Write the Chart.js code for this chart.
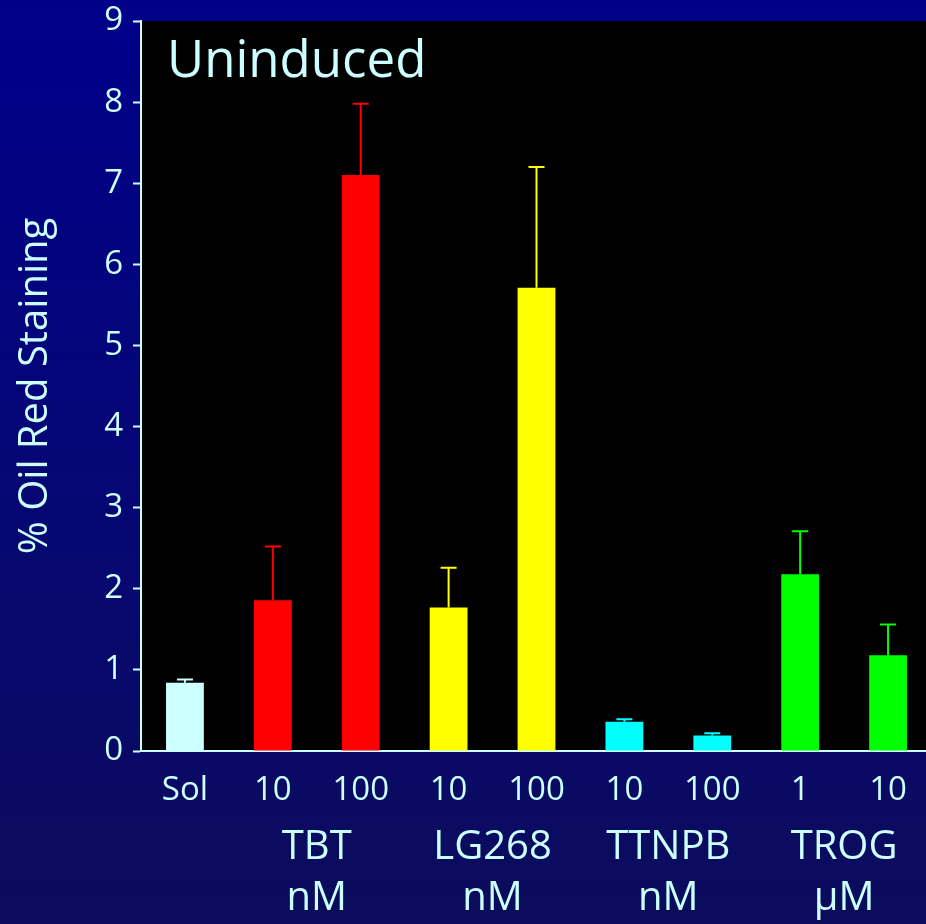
<!DOCTYPE html>
<html>
<head>
<meta charset="utf-8">
<script src="https://cdn.jsdelivr.net/npm/chart.js@4"></script>
<style>
  html, body { margin: 0; padding: 0; overflow: hidden; }
  body { width: 926px; height: 924px; background: linear-gradient(to bottom, #00008a 0%, #060676 50%, #0c0c5c 100%); }
  #wrap { position: absolute; left: 0; top: 0; width: 932px; height: 924px; }
</style>
</head>
<body>
<div id="wrap"><canvas id="canvas" width="932" height="924"></canvas></div>
<script>
  'use strict'

  var categories = ['Sol', '10', '100', '10', '100', '10', '100', '1', '10']
  var means = [0.84, 1.86, 7.10, 1.77, 5.71, 0.36, 0.19, 2.18, 1.18]
  var errTops = [0.88, 2.52, 7.98, 2.26, 7.20, 0.39, 0.22, 2.71, 1.56]
  var barColors = ['#ccffff', '#ff0000', '#ff0000', '#ffff00', '#ffff00', '#00ffff', '#00ffff', '#00ff00', '#00ff00']
  var groups = [['TBT', 'nM'], ['LG268', 'nM'], ['TTNPB', 'nM'], ['TROG', '\u03bcM']]
  var groupSpans = [[1, 2], [3, 4], [5, 6], [7, 8]]
  var yTicks = [0, 1, 2, 3, 4, 5, 6, 7, 8, 9]

  var ink = '#ccffff'
  var font = 'Open Sans'

  var plotBg = {
    id: 'plotBg',
    beforeDraw: function (chart) {
      var a = chart.chartArea
      var ctx = chart.ctx
      ctx.save()
      ctx.fillStyle = '#000000'
      ctx.fillRect(a.left, a.top, a.right - a.left, a.bottom - a.top)
      ctx.restore()
    }
  }

  var errorBars = {
    id: 'errorBars',
    afterDatasetsDraw: function (chart) {
      var ctx = chart.ctx
      var y = chart.scales.y
      var meta = chart.getDatasetMeta(0)
      ctx.save()
      ctx.lineWidth = 2
      meta.data.forEach(function (bar, i) {
        var top = y.getPixelForValue(errTops[i])
        ctx.strokeStyle = barColors[i]
        ctx.beginPath()
        ctx.moveTo(bar.x, bar.y)
        ctx.lineTo(bar.x, top)
        ctx.moveTo(bar.x - 8, top)
        ctx.lineTo(bar.x + 8, top)
        ctx.stroke()
      })
      ctx.restore()
    }
  }

  var annotations = {
    id: 'annotations',
    afterDraw: function (chart) {
      var ctx = chart.ctx
      var a = chart.chartArea
      var x = chart.scales.x
      ctx.save()
      ctx.fillStyle = ink
      ctx.font = '51px "' + font + '"'
      ctx.textAlign = 'left'
      ctx.textBaseline = 'alphabetic'
      ctx.fillText('Uninduced', a.left + 26, a.top + 56)

      ctx.font = '40px "' + font + '"'
      ctx.textAlign = 'center'
      ctx.textBaseline = 'middle'
      groups.forEach(function (g, i) {
        var cx = (x.getPixelForValue(groupSpans[i][0]) + x.getPixelForValue(groupSpans[i][1])) / 2
        ctx.fillText(g[0], cx, a.bottom + 97)
        ctx.fillText(g[1], cx, a.bottom + 148)
      })
      ctx.restore()
    }
  }

  var context = document.getElementById('canvas').getContext('2d')
  new Chart(context, {
    type: 'bar',
    data: {
      labels: categories,
      datasets: [{
        data: means,
        backgroundColor: barColors,
        borderWidth: 0,
        barPercentage: 0.86,
        categoryPercentage: 0.5
      }]
    },
    options: {
      responsive: false,
      animation: false,
      layout: { padding: { top: 21, right: 0, bottom: 0, left: 0 } },
      plugins: {
        legend: { display: false },
        tooltip: { enabled: false }
      },
      scales: {
        x: {
          grid: { display: false },
          border: { color: ink, width: 2 },
          ticks: {
            color: ink,
            font: { family: font, size: 33 },
            padding: 12,
            maxRotation: 0,
            autoSkip: false
          },
          afterFit: function (scale) { scale.height = 173 }
        },
        y: {
          min: 0,
          max: 9,
          afterBuildTicks: function (scale) {
            var t = []
            yTicks.forEach(function (v, i) {
              t.push({ value: v })
              if (i < yTicks.length - 1) t.push({ value: v + 0.5 })
            })
            scale.ticks = t
          },
          grid: {
            drawOnChartArea: false,
            tickLength: 8,
            tickColor: ink,
            tickWidth: 2
          },
          border: { color: ink, width: 2 },
          ticks: {
            color: ink,
            font: { family: font, size: 33 },
            padding: 10,
            callback: function (v) { return Number.isInteger(v) ? String(v) : '' }
          },
          title: {
            display: true,
            text: '% Oil Red Staining',
            color: ink,
            font: { family: font, size: 40 },
            padding: { top: 12, bottom: 0 }
          },
          afterFit: function (scale) {
            scale.width = 141
            scale.paddingTop = 0
            scale.paddingBottom = 0
          }
        }
      }
    },
    plugins: [plotBg, errorBars, annotations]
  })
</script>
</body>
</html>
